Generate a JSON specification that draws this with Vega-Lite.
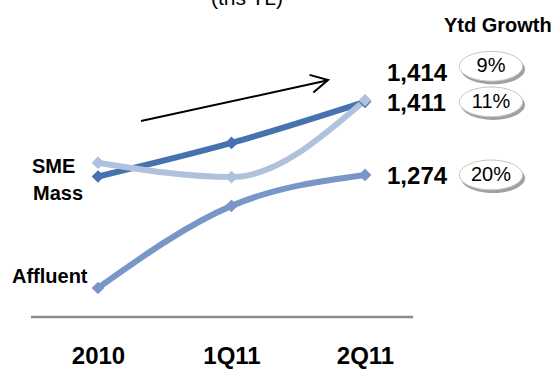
{
  "$schema": "https://vega.github.io/schema/vega-lite/v6.json",
  "width": 555,
  "height": 320,
  "autosize": "none",
  "padding": {"left": 0, "top": 0, "right": 0, "bottom": 49},
  "background": "white",
  "config": {"view": {"stroke": null}, "font": "Liberation Sans"},
  "datasets": {
    "lines": [
      {"series": "Affluent", "period": "2010", "t": 0, "value": 1062},
      {"series": "Affluent", "period": "1Q11", "t": 1, "value": 1216},
      {"series": "Affluent", "period": "2Q11", "t": 2, "value": 1274, "growth": "20%"},
      {"series": "Mass", "period": "2010", "t": 0, "value": 1271},
      {"series": "Mass", "period": "1Q11", "t": 1, "value": 1334},
      {"series": "Mass", "period": "2Q11", "t": 2, "value": 1411, "growth": "11%"},
      {"series": "SME", "period": "2010", "t": 0, "value": 1297},
      {"series": "SME", "period": "1Q11", "t": 1, "value": 1270},
      {"series": "SME", "period": "2Q11", "t": 2, "value": 1414, "growth": "9%"}
    ],
    "notes": [{"txt": "(ths TL)"}],
    "head": [{"txt": "Ytd Growth"}]
  },
  "layer": [
    {
      "data": {"name": "notes"},
      "mark": {"type": "rule", "stroke": "#8c8c8c", "strokeWidth": 2.5},
      "encoding": {
        "x": {"datum": -0.502, "type": "quantitative", "title": null, "scale": {"domain": [-0.734, 3.423], "nice": false, "zero": false}},
        "x2": {"datum": 2.36},
        "y": {"datum": 1007.6, "type": "quantitative", "scale": {"domain": [1002, 1602], "nice": false, "zero": false}, "axis": null}
      }
    },
    {
      "data": {"name": "notes"},
      "mark": {"type": "rule", "stroke": "black", "strokeWidth": 2},
      "encoding": {
        "x": {"datum": 0.322, "type": "quantitative", "title": null, "scale": {"domain": [-0.734, 3.423], "nice": false, "zero": false}},
        "x2": {"datum": 1.715},
        "y": {"datum": 1375, "type": "quantitative", "scale": {"domain": [1002, 1602], "nice": false, "zero": false}, "axis": null},
        "y2": {"datum": 1451}
      }
    },
    {
      "data": {"name": "notes"},
      "mark": {"type": "point", "shape": "M-1,-0.53L0,0L-1,0.53", "filled": false, "stroke": "black", "strokeWidth": 2, "size": 1156, "angle": -12.4, "opacity": 1},
      "encoding": {
        "x": {"datum": 1.723, "type": "quantitative", "title": null, "scale": {"domain": [-0.734, 3.423], "nice": false, "zero": false}},
        "y": {"datum": 1452, "type": "quantitative", "scale": {"domain": [1002, 1602], "nice": false, "zero": false}, "axis": null}
      }
    },
    {
      "data": {"name": "lines"},
      "mark": {"type": "line", "interpolate": "monotone", "strokeWidth": 6},
      "encoding": {
        "x": {"field": "t", "type": "quantitative", "title": null,
          "scale": {"domain": [-0.734, 3.423], "nice": false, "zero": false},
          "axis": {"values": [0, 1, 2], "labelExpr": "['2010','1Q11','2Q11'][datum.value]", "domain": false, "ticks": false, "tickSize": 0, "grid": false, "labelFont": "Liberation Sans", "labelFontWeight": "bold", "labelFontSize": 24, "labelColor": "black", "labelBaseline": "alphabetic", "labelPadding": 43, "labelFlush": false, "labelOverlap": false}},
        "y": {"field": "value", "type": "quantitative", "scale": {"domain": [1002, 1602], "nice": false, "zero": false}, "axis": null},
        "color": {"field": "series", "type": "nominal", "legend": null,
          "scale": {"domain": ["Affluent", "Mass", "SME"], "range": ["#7896c8", "#4672b0", "#b0c1dd"]}}
      }
    },
    {
      "data": {"name": "lines"},
      "mark": {"type": "point", "shape": "diamond", "filled": true, "size": 160, "opacity": 1},
      "encoding": {
        "x": {"field": "t", "type": "quantitative", "title": null, "scale": {"domain": [-0.734, 3.423], "nice": false, "zero": false}},
        "y": {"field": "value", "type": "quantitative", "scale": {"domain": [1002, 1602], "nice": false, "zero": false}, "axis": null},
        "color": {"field": "series", "type": "nominal", "legend": null,
          "scale": {"domain": ["Affluent", "Mass", "SME"], "range": ["#7896c8", "#4672b0", "#b0c1dd"]}}
      }
    },
    {
      "data": {"name": "lines"},
      "layer": [
        {
          "transform": [{"filter": "datum.t == 0 && datum.series == 'SME'"}],
          "mark": {"type": "text", "align": "left", "baseline": "middle", "dx": -66, "dy": 4, "fontSize": 20, "fontWeight": "bold", "color": "black"},
          "encoding": {"text": {"field": "series"}}
        },
        {
          "transform": [{"filter": "datum.t == 0 && datum.series == 'Mass'"}],
          "mark": {"type": "text", "align": "left", "baseline": "middle", "dx": -65, "dy": 17, "fontSize": 20, "fontWeight": "bold", "color": "black"},
          "encoding": {"text": {"field": "series"}}
        },
        {
          "transform": [{"filter": "datum.t == 0 && datum.series == 'Affluent'"}],
          "mark": {"type": "text", "align": "left", "baseline": "middle", "dx": -86, "dy": -11, "fontSize": 20, "fontWeight": "bold", "color": "black"},
          "encoding": {"text": {"field": "series"}}
        },
        {
          "transform": [{"filter": "datum.t == 2 && datum.series != 'SME'"}],
          "mark": {"type": "text", "align": "left", "baseline": "middle", "dx": 22, "dy": 2, "fontSize": 24, "fontWeight": "bold", "color": "black"},
          "encoding": {"text": {"field": "value", "format": ","}}
        },
        {
          "transform": [{"filter": "datum.t == 2 && datum.series == 'SME'"}],
          "mark": {"type": "text", "align": "left", "baseline": "middle", "dx": 22, "dy": -26, "fontSize": 24, "fontWeight": "bold", "color": "black"},
          "encoding": {"text": {"field": "value", "format": ","}}
        },
        {
          "transform": [{"filter": "datum.t == 2 && datum.series != 'SME'"}],
          "mark": {"type": "point", "shape": "M-1,0A1,0.47,0,1,1,1,0A1,0.47,0,1,1,-1,0Z", "filled": true, "color": "#a0a0a0", "size": 4100, "opacity": 1, "xOffset": 128, "yOffset": 3}
        },
        {
          "transform": [{"filter": "datum.t == 2 && datum.series != 'SME'"}],
          "mark": {"type": "point", "shape": "M-1,0A1,0.47,0,1,1,1,0A1,0.47,0,1,1,-1,0Z", "filled": true, "fill": "white", "stroke": "#c4c4c4", "strokeWidth": 1, "size": 4000, "opacity": 1, "xOffset": 126, "yOffset": 0}
        },
        {
          "transform": [{"filter": "datum.t == 2 && datum.series == 'SME'"}],
          "mark": {"type": "point", "shape": "M-1,0A1,0.47,0,1,1,1,0A1,0.47,0,1,1,-1,0Z", "filled": true, "color": "#a0a0a0", "size": 4100, "opacity": 1, "xOffset": 128, "yOffset": -31}
        },
        {
          "transform": [{"filter": "datum.t == 2 && datum.series == 'SME'"}],
          "mark": {"type": "point", "shape": "M-1,0A1,0.47,0,1,1,1,0A1,0.47,0,1,1,-1,0Z", "filled": true, "fill": "white", "stroke": "#c4c4c4", "strokeWidth": 1, "size": 4000, "opacity": 1, "xOffset": 126, "yOffset": -34}
        },
        {
          "transform": [{"filter": "datum.t == 2 && datum.series != 'SME'"}],
          "mark": {"type": "text", "align": "center", "baseline": "middle", "dx": 126, "dy": 0, "fontSize": 20, "color": "black"},
          "encoding": {"text": {"field": "growth"}}
        },
        {
          "transform": [{"filter": "datum.t == 2 && datum.series == 'SME'"}],
          "mark": {"type": "text", "align": "center", "baseline": "middle", "dx": 126, "dy": -34, "fontSize": 20, "color": "black"},
          "encoding": {"text": {"field": "growth"}}
        }
      ],
      "encoding": {
        "x": {"field": "t", "type": "quantitative", "title": null, "scale": {"domain": [-0.734, 3.423], "nice": false, "zero": false}},
        "y": {"field": "value", "type": "quantitative", "scale": {"domain": [1002, 1602], "nice": false, "zero": false}, "axis": null}
      }
    },
    {
      "data": {"name": "notes"},
      "mark": {"type": "text", "align": "center", "baseline": "alphabetic", "fontSize": 21, "color": "black"},
      "encoding": {
        "x": {"datum": 1.116, "type": "quantitative", "title": null, "scale": {"domain": [-0.734, 3.423], "nice": false, "zero": false}},
        "y": {"datum": 1592, "type": "quantitative", "scale": {"domain": [1002, 1602], "nice": false, "zero": false}, "axis": null},
        "text": {"field": "txt"}
      }
    },
    {
      "data": {"name": "head"},
      "mark": {"type": "text", "align": "center", "baseline": "alphabetic", "fontSize": 20, "fontWeight": "bold", "color": "black"},
      "encoding": {
        "x": {"datum": 2.995, "type": "quantitative", "title": null, "scale": {"domain": [-0.734, 3.423], "nice": false, "zero": false}},
        "y": {"datum": 1542, "type": "quantitative", "scale": {"domain": [1002, 1602], "nice": false, "zero": false}, "axis": null},
        "text": {"field": "txt"}
      }
    }
  ]
}
